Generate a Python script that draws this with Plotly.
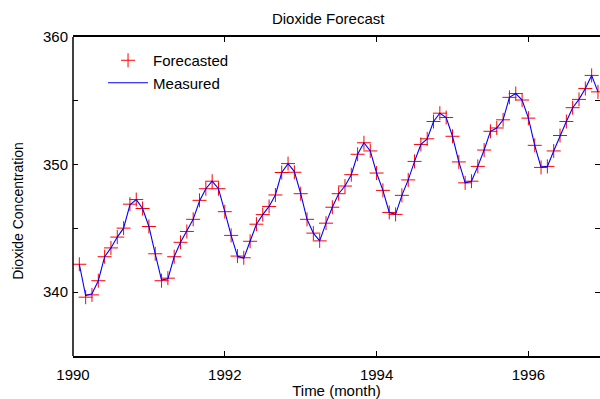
import plotly.graph_objects as go

# Monthly time index (months after Jan 1990)
months = list(range(1, 84))
time_years = [1990 + m / 12 for m in months]

forecasted = [
    342.19, 339.61, 339.79, 340.90, 342.78, 343.47, 344.32, 345.02, 346.90, 347.26, 346.56, 345.15,
    343.01, 340.90, 341.10, 342.78, 343.91, 344.76, 345.71, 347.20, 348.11, 348.70, 348.11, 346.31,
    344.45, 342.83, 342.70, 343.99, 345.33, 346.08, 346.72, 347.62, 349.38, 350.08, 349.40, 347.72,
    345.71, 344.63, 344.02, 345.41, 346.66, 347.72, 348.32, 349.21, 350.81, 351.71, 351.07, 349.34,
    347.98, 346.25, 346.10, 347.59, 348.80, 350.25, 351.58, 352.02, 353.38, 354.03, 353.69, 352.22,
    350.21, 348.57, 348.70, 349.86, 351.14, 352.61, 352.87, 353.51, 355.27, 355.57, 355.06, 353.64,
    351.51, 349.78, 349.86, 351.07, 352.28, 353.38, 354.46, 355.11, 355.96, 356.99, 355.70,
]

measured = [
    342.19, 339.74, 339.87, 340.90, 342.78, 343.47, 344.32, 345.02, 346.85, 347.26, 346.56, 345.15,
    343.01, 340.95, 341.05, 342.78, 343.91, 344.76, 345.71, 347.15, 348.11, 348.70, 348.11, 346.31,
    344.45, 342.83, 342.65, 343.99, 345.33, 346.08, 346.72, 347.62, 349.38, 350.08, 349.45, 347.72,
    345.71, 344.63, 344.02, 345.41, 346.66, 347.72, 348.32, 349.21, 350.81, 351.71, 351.07, 349.34,
    347.98, 346.25, 346.10, 347.59, 348.80, 350.25, 351.58, 352.02, 353.38, 354.03, 353.69, 352.22,
    350.21, 348.57, 348.70, 349.86, 351.14, 352.61, 352.87, 353.51, 355.27, 355.57, 355.06, 353.64,
    351.51, 349.78, 349.86, 351.07, 352.28, 353.38, 354.46, 355.11, 355.96, 356.99, 355.70,
]

x_tickvals = [1990, 1992, 1994, 1996]
x_ticktext = ["1990", "1992", "1994", "1996"]
y_tickvals = [335, 340, 345, 350, 355, 360]
y_ticktext = ["", "340", "", "350", "", "360"]

FONT = "Liberation Sans, Arial, Helvetica, sans-serif"

fig = go.Figure()
fig.add_trace(go.Scatter(
    x=time_years, y=forecasted, mode="markers", name="Forecasted",
    marker=dict(symbol="cross-thin", size=10, line=dict(color="#ff0000", width=1), color="#ff0000"),
))
fig.add_trace(go.Scatter(
    x=time_years, y=measured, mode="lines", name="Measured",
    line=dict(color="#0000ff", width=1.1),
))

fig.update_layout(
    width=600, height=399,
    margin=dict(l=73, r=0, t=37, b=40),
    paper_bgcolor="white", plot_bgcolor="white",
    font=dict(family=FONT, size=15, color="black"),
    title=dict(text="Dioxide Forecast", x=0.547, xanchor="center", xref="container",
               y=1 - 19 / 399, yanchor="middle", font=dict(size=15, color="black")),
    showlegend=True,
    legend=dict(x=0.057, y=0.978, xanchor="left", yanchor="top", bgcolor="rgba(0,0,0,0)",
                font=dict(size=15), traceorder="normal", itemwidth=40),
    xaxis=dict(
        range=[1990, 1990 + 527 / 75.9], tickvals=x_tickvals, ticktext=x_ticktext,
        showgrid=False, zeroline=False, showline=True, linecolor="black", linewidth=1.5,
        mirror="ticks", ticks="inside", ticklen=5, tickwidth=1, tickcolor="black",
        ticklabelstandoff=4,
        title=dict(text="Time (month)", standoff=6, font=dict(size=15)),
    ),
    yaxis=dict(
        range=[335, 360], tickvals=y_tickvals, ticktext=y_ticktext,
        showgrid=False, zeroline=False, showline=False, mirror="ticks",
        ticks="inside", ticklen=5, tickwidth=1, tickcolor="black",
        ticklabelstandoff=4,
    ),
    shapes=[dict(type="line", xref="paper", yref="paper", x0=0, x1=0, y0=0, y1=1,
                 line=dict(color="black", width=1.5))],
    annotations=[dict(text="Dioxide Concentration", textangle=-90, showarrow=False,
                      xref="paper", yref="paper", x=(18 - 73) / 527, y=(359.5 - 213) / 322,
                      xanchor="center", yanchor="middle", font=dict(size=14, color="black"))],
)

fig.write_html("out.html")
